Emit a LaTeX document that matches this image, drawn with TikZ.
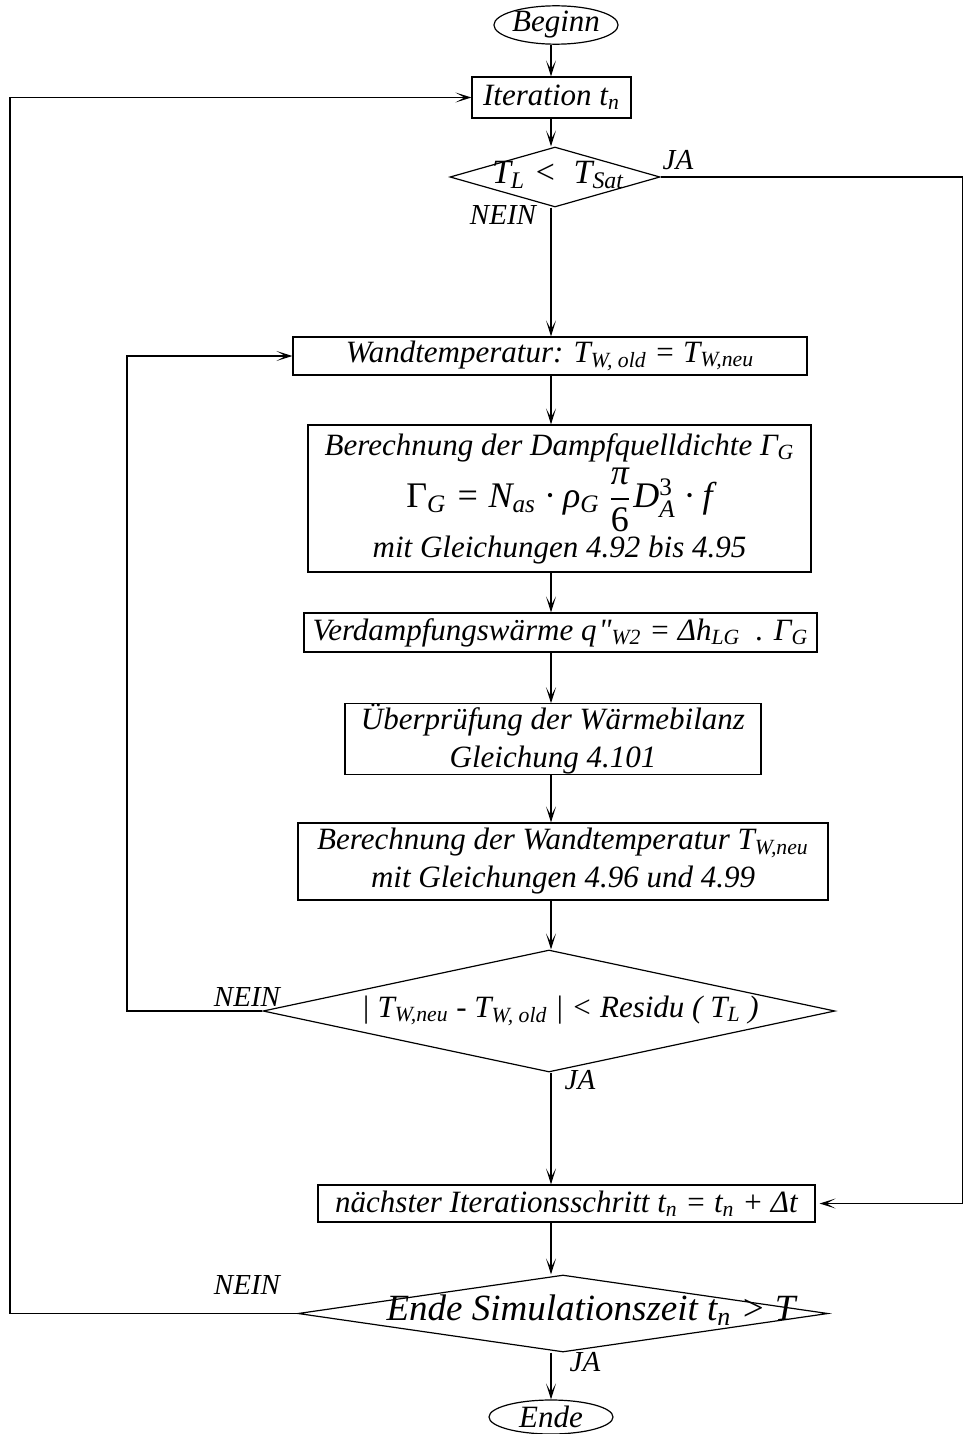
\documentclass[tikz,border=0pt]{standalone}
\usepackage{amsmath}
\usepackage{fontspec}
\setmainfont{Liberation Serif}[Ligatures=TeXOff]
\usetikzlibrary{arrows.meta,positioning,shapes.geometric,calc}
\newcommand{\ix}[1]{\textsubscript{#1}}
\tikzset{
  kasten/.style={rectangle,draw,line width=0.6pt,inner sep=0pt,align=center,
    font=\fontsize{15.5}{19}\selectfont\itshape},
  raute/.style={diamond,draw,line width=0.6pt,inner sep=0pt},
  rautetext/.style={inner sep=0pt,font=\fontsize{15.5}{19}\selectfont\itshape},
  oval/.style={ellipse,draw,line width=0.6pt,inner sep=0pt,minimum width=62pt,
    minimum height=17pt,font=\fontsize{15.5}{19}\selectfont\itshape},
  pfeil/.style={-{Stealth[length=8pt,width=5pt,inset=4.5pt]},line width=0.6pt},
  marke/.style={inner sep=0pt,font=\fontsize{14.5}{17}\selectfont\itshape},
}
\begin{document}
\begin{tikzpicture}[x=0.5pt,y=-0.5pt]
  \useasboundingbox (0,0) rectangle (964,1434);
  \coordinate (achse) at (551,0);
  \coordinate (rechts) at (962.5,700);
  \coordinate (links) at (127,700);
  \coordinate (aussen) at (10,700);
  % Knoten
  \node[oval] (beginn) at (556,25) {Beginn};
  \node[kasten,minimum width=79.5pt,minimum height=20.5pt] (iter) at (551.5,97.5) {Iteration t\ix{n}};
  \node[raute,minimum width=105pt,minimum height=30pt] (d1) at (555,177) {};
  \node[rautetext] (d1t) at (558,175) {\fontsize{17}{19}\selectfont T\ix{L} <\ \ T\ix{Sat}};
  \node[kasten,minimum width=257pt,minimum height=19pt] (wand) at (550,356)
    {Wandtemperatur: T\ix{W, old} = T\ix{W,neu}};
  \node[kasten,minimum width=251.5pt,minimum height=73.5pt] (ber1) at (559.5,498.5)
    {Berechnung der Dampfquelldichte \textit{Γ}\ix{G}\\[2pt]
     {\fontsize{18}{20}\selectfont\upshape Γ\ix{\itshape G} \itshape= N\ix{as} · ρ\ix{G}
      $\dfrac{\textit{π}}{\textup{6}}$\kern1pt D$^{\textup{3}}_{\textit{A}}$ · f}\\[1pt]
     mit Gleichungen 4.92 bis 4.95};
  \node[kasten,minimum width=256.5pt,minimum height=19.5pt] (verd) at (560.5,632.5)
    {Verdampfungswärme q\kern1pt"\ix{W2} = Δh\ix{LG}\ \ . Γ\ix{G}};
  \node[kasten,minimum width=208pt,minimum height=33pt] (uebp) at (553,739)
    {Überprüfung der Wärmebilanz\\Gleichung 4.101};
  \node[kasten,minimum width=265pt,minimum height=38.5pt] (ber2) at (563,861.5)
    {Berechnung der Wandtemperatur T\ix{W,neu}\\mit Gleichungen 4.96 und 4.99};
  \node[raute,minimum width=286pt,minimum height=61pt] (d2) at (549,1011) {};
  \node[rautetext] (d2t) at (560,1011) {| T\ix{W,neu} - T\ix{W, old} | < Residu ( T\ix{L} )};
  \node[kasten,minimum width=248.5pt,minimum height=18.5pt] (next) at (566.5,1203.5)
    {nächster Iterationsschritt t\ix{n} = t\ix{n} + Δt};
  \node[raute,minimum width=265pt,minimum height=38.5pt] (d3) at (563,1313.5) {};
  \node[rautetext] (d3t) at (591,1310) {\fontsize{18.5}{21}\selectfont Ende Simulationszeit t\ix{n} > T};
  \node[oval] (ende) at (551,1417) {Ende};
  % Beschriftungen
  \node[marke] (ja1) at (678,160) {JA};
  \node[marke] (nein1) at (503,215) {NEIN};
  \node[marke] (nein2) at (247,997) {NEIN};
  \node[marke] (ja2) at (580,1080) {JA};
  \node[marke] (nein3) at (247,1285) {NEIN};
  \node[marke] (ja3) at (585,1362) {JA};
  % Verbindungen
  \draw[pfeil] (beginn.south -| achse) -- (iter.north -| achse);
  \draw[pfeil] (iter.south -| achse) -- (d1.north -| achse);
  \draw[pfeil] (d1.south -| achse) -- (wand.north -| achse);
  \draw[pfeil] (wand.south -| achse) -- (ber1.north -| achse);
  \draw[pfeil] (ber1.south -| achse) -- (verd.north -| achse);
  \draw[pfeil] (verd.south -| achse) -- (uebp.north -| achse);
  \draw[pfeil] (uebp.south -| achse) -- (ber2.north -| achse);
  \draw[pfeil] (ber2.south -| achse) -- (d2.north -| achse);
  \draw[pfeil] (d2.south -| achse) -- (next.north -| achse);
  \draw[pfeil] (next.south -| achse) -- (d3.north -| achse);
  \draw[pfeil] (d3.south -| achse) -- (ende.north -| achse);
  \draw[pfeil] (d1.east) -| (rechts) |- ([xshift=2pt]next.east);
  \draw[pfeil] (d2.west) -| (links) |- (wand.west);
  \draw[pfeil] (d3.west) -| (aussen) |- (iter.west);
\end{tikzpicture}
\end{document}
